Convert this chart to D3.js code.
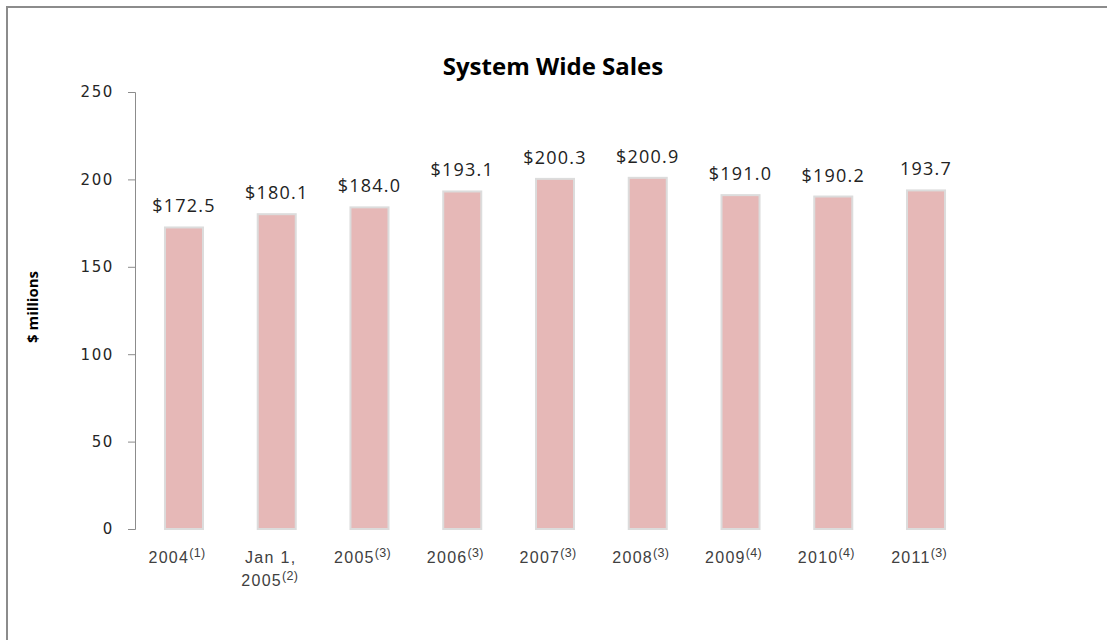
<!DOCTYPE html>
<html>
<head>
<meta charset="utf-8">
<script src="https://cdn.jsdelivr.net/npm/d3@7"></script>
<style>
  html, body { margin: 0; padding: 0; background: #fff; }
  #chart { width: 1107px; height: 640px; }
</style>
</head>
<body>
<div id="chart"></div>
<script>
// Chart data
const categories = ['2004', 'Jan 1, 2005', '2005', '2006', '2007', '2008', '2009', '2010', '2011']
const categoryLines = [['2004'], ['Jan 1,', '2005'], ['2005'], ['2006'], ['2007'], ['2008'], ['2009'], ['2010'], ['2011']]
const footnotes = ['(1)', '(2)', '(3)', '(3)', '(3)', '(3)', '(4)', '(4)', '(3)']
const sales = [172.5, 180.1, 184.0, 193.1, 200.3, 200.9, 191.0, 190.2, 193.7]
const salesLabels = ['$172.5', '$180.1', '$184.0', '$193.1', '$200.3', '$200.9', '$191.0', '$190.2', '193.7']
const yTicks = [0, 50, 100, 150, 200, 250]

const width = 1107
const height = 640
const margin = { top: 92, right: 132, bottom: 111, left: 135 }

const svg = d3.select('#chart').append('svg')
  .attr('width', width)
  .attr('height', height)

// Frame (only top and left edges are visible in the picture)
svg.append('path')
  .attr('d', `M7,${height} V7 H${width}`)
  .attr('fill', 'none')
  .attr('stroke', '#8c8c8c')
  .attr('stroke-width', 2)

const xScale = d3.scaleBand()
  .domain(categories)
  .range([margin.left, width - margin.right])
  .paddingInner(0.59)
  .paddingOuter(0.323)

const yScale = d3.scaleLinear()
  .domain([0, 250])
  .range([height - margin.bottom, margin.top])

// Y axis
const yAxis = svg.append('g')
  .attr('transform', `translate(${margin.left},0)`)
  .call(d3.axisLeft(yScale).tickValues(yTicks).tickSize(7).tickPadding(14))
yAxis.select('.domain').attr('stroke', '#8c8c8c')
yAxis.selectAll('.tick line').attr('stroke', '#8c8c8c')
yAxis.selectAll('.tick text')
  .attr('fill', '#262626')
  .style('font-family', '"DejaVu Sans", sans-serif')
  .style('font-size', '15px')
  .style('letter-spacing', '1.6px')

// Y axis title
svg.append('text')
  .attr('transform', 'translate(38,307) rotate(-90)')
  .attr('text-anchor', 'middle')
  .style('font-family', '"Open Sans", sans-serif')
  .style('font-weight', 'bold')
  .style('font-size', '15px')
  .attr('fill', '#000')
  .text('$ millions')

// Chart title
svg.append('text')
  .attr('x', 553)
  .attr('y', 75)
  .attr('text-anchor', 'middle')
  .style('font-family', '"Open Sans", sans-serif')
  .style('font-weight', 'bold')
  .style('font-size', '24px')
  .attr('fill', '#000')
  .text('System Wide Sales')

// Bars
svg.append('g')
  .selectAll('rect')
  .data(sales)
  .join('rect')
  .attr('x', (d, i) => xScale(categories[i]))
  .attr('y', d => yScale(d))
  .attr('width', xScale.bandwidth())
  .attr('height', d => yScale(0) - yScale(d))
  .attr('fill', '#e6b8b7')
  .attr('stroke', '#dcdcdc')
  .attr('stroke-width', 2)

// Value labels
svg.append('g')
  .selectAll('text')
  .data(sales)
  .join('text')
  .attr('x', (d, i) => xScale(categories[i]) + xScale.bandwidth() / 2)
  .attr('y', d => yScale(d) - 15)
  .attr('text-anchor', 'middle')
  .style('font-family', '"Open Sans", sans-serif')
  .style('font-size', '18px')
  .style('letter-spacing', '1.2px')
  .attr('fill', '#222')
  .text((d, i) => salesLabels[i])

// Category labels with superscript footnotes
const xLabels = svg.append('g')
  .selectAll('text')
  .data(categories)
  .join('text')
  .attr('text-anchor', 'middle')
  .style('font-family', '"Liberation Sans", Arial, sans-serif')
  .style('font-size', '16px')
  .style('letter-spacing', '1.3px')
  .attr('fill', '#404040')

xLabels.each(function (d, i) {
  const text = d3.select(this)
  const cx = xScale(d) + xScale.bandwidth() / 2
  const lines = categoryLines[i]
  lines.forEach((line, j) => {
    const isLast = j === lines.length - 1
    text.append('tspan')
      .attr('x', cx + (isLast ? -7 : -6))
      .attr('y', 563 + j * 23)
      .text(line)
    if (isLast) {
      text.append('tspan')
        .attr('dy', -6)
        .style('font-size', '12.5px')
        .style('letter-spacing', '0.3px')
        .text(footnotes[i])
    }
  })
})
</script>
</body>
</html>
